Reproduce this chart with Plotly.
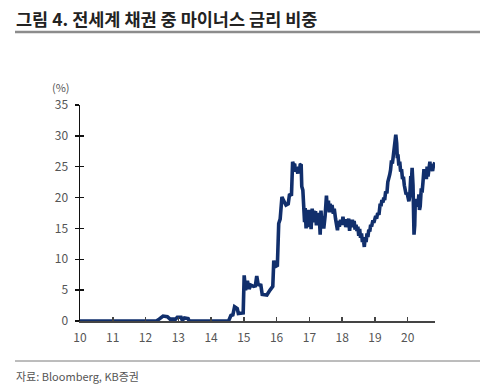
import plotly.graph_objects as go

dates = [
    "2010-01-01", "2012-05-01", "2012-06-01", "2012-07-15", "2012-09-01", "2012-10-01",
    "2012-12-01", "2012-12-20", "2013-02-01", "2013-02-15", "2013-03-10", "2013-04-20",
    "2013-05-01", "2014-07-15", "2014-08-10", "2014-09-01", "2014-09-20", "2014-10-20",
    "2014-11-01", "2014-12-25", "2015-01-05", "2015-01-20", "2015-02-10", "2015-03-01",
    "2015-03-20", "2015-04-20", "2015-05-10", "2015-05-25", "2015-06-10", "2015-07-10",
    "2015-07-25", "2015-09-15", "2015-10-20", "2015-11-20", "2015-12-01", "2015-12-15",
    "2016-01-10", "2016-01-25", "2016-02-10", "2016-03-01", "2016-03-20", "2016-04-15",
    "2016-05-10", "2016-05-25", "2016-06-15", "2016-06-28", "2016-07-10", "2016-07-20",
    "2016-08-01", "2016-08-10", "2016-08-25", "2016-09-05", "2016-09-12", "2016-09-20",
    "2016-10-01", "2016-10-08", "2016-10-20", "2016-11-01", "2016-11-08", "2016-11-15",
    "2016-11-25", "2016-12-05", "2016-12-12", "2016-12-22", "2017-01-05", "2017-01-12",
    "2017-01-20", "2017-02-01", "2017-02-10", "2017-02-20", "2017-03-01", "2017-03-10",
    "2017-03-20", "2017-04-01", "2017-04-10", "2017-04-20", "2017-05-01", "2017-05-10",
    "2017-05-20", "2017-06-01", "2017-06-10", "2017-06-25", "2017-07-10", "2017-07-20",
    "2017-08-01", "2017-08-10", "2017-08-20", "2017-09-01", "2017-09-10", "2017-09-25",
    "2017-10-05", "2017-10-20", "2017-11-01", "2017-11-10", "2017-11-20", "2017-12-01",
    "2017-12-15", "2018-01-01", "2018-01-10", "2018-01-20", "2018-02-01", "2018-02-10",
    "2018-02-20", "2018-03-05", "2018-03-15", "2018-03-25", "2018-04-05", "2018-04-15",
    "2018-04-25", "2018-05-05", "2018-05-15", "2018-05-25", "2018-06-05", "2018-06-15",
    "2018-06-25", "2018-07-05", "2018-07-15", "2018-07-25", "2018-08-05", "2018-08-15",
    "2018-08-25", "2018-09-05", "2018-09-15", "2018-09-25", "2018-10-05", "2018-10-15",
    "2018-10-25", "2018-11-05", "2018-11-15", "2018-11-25", "2018-12-10", "2018-12-20",
    "2019-01-10", "2019-01-20", "2019-02-01", "2019-02-15", "2019-03-01", "2019-03-10",
    "2019-03-20", "2019-04-01", "2019-04-10", "2019-04-20", "2019-05-01", "2019-05-15",
    "2019-05-25", "2019-06-05", "2019-06-15", "2019-06-25", "2019-07-05", "2019-07-15",
    "2019-07-25", "2019-08-05", "2019-08-15", "2019-08-22", "2019-09-01", "2019-09-08",
    "2019-09-15", "2019-09-25", "2019-10-05", "2019-10-15", "2019-10-25", "2019-11-05",
    "2019-11-15", "2019-11-25", "2019-12-05", "2019-12-15", "2019-12-25", "2020-01-05",
    "2020-01-15", "2020-01-25", "2020-02-05", "2020-02-12", "2020-02-20", "2020-03-01",
    "2020-03-08", "2020-03-12", "2020-03-20", "2020-03-27", "2020-04-05", "2020-04-15",
    "2020-04-25", "2020-05-05", "2020-05-12", "2020-05-20", "2020-06-01", "2020-06-10",
    "2020-06-20", "2020-07-01", "2020-07-10", "2020-07-20", "2020-07-28", "2020-08-05",
    "2020-08-15", "2020-08-25", "2020-09-05", "2020-09-15", "2020-09-25", "2020-10-05",
    "2020-10-15", "2020-10-31",
]
values = [
    0.0, 0.0, 0.3, 0.8, 0.7, 0.3,
    0.3, 0.6, 0.6, 0.1, 0.5, 0.4,
    0.0, 0.0, 0.9, 1.0, 2.3, 2.0,
    1.2, 1.3, 7.4, 5.0, 6.5, 5.2,
    5.8, 5.6, 5.7, 7.3, 5.9, 5.8,
    4.3, 4.2, 5.0, 5.6, 9.8, 8.8,
    9.0, 15.8, 16.5, 20.1, 19.5, 18.8,
    19.0, 20.6, 20.3, 25.8, 25.2, 25.5,
    24.2, 24.8, 23.9, 25.0, 24.1, 25.3,
    25.4, 21.8, 21.2, 18.5, 16.0, 18.3,
    15.0, 17.8, 15.2, 18.0, 15.5, 17.6,
    14.9, 18.2, 16.5, 17.9, 16.0, 17.8,
    15.5, 17.5, 16.0, 17.2, 14.0, 17.9,
    15.8, 17.0, 15.0, 17.0, 20.3, 18.0,
    19.5, 17.6, 19.0, 17.6, 18.8, 17.4,
    18.2, 16.5, 15.0, 14.7, 16.2, 15.3,
    16.4, 15.6, 16.9, 15.8, 16.5, 15.2,
    16.0, 15.3, 16.6, 14.6, 16.0, 15.2,
    16.4, 15.5, 16.2, 14.8, 15.6, 14.6,
    15.3, 13.8, 14.9, 13.5, 14.2, 12.8,
    13.4, 12.0, 13.6, 12.8, 14.2, 13.6,
    14.8, 14.5, 15.6, 15.3, 16.3, 15.9,
    17.0, 16.6, 17.5, 17.2, 19.0, 18.6,
    19.6, 19.2, 20.0, 19.6, 21.0, 20.7,
    22.5, 23.0, 23.7, 24.5, 26.0, 25.5,
    26.8, 28.5, 29.5, 30.2, 28.8, 26.4,
    27.0, 25.2, 25.8, 24.2, 24.6, 23.0,
    23.4, 22.0, 21.5, 20.5, 20.8, 20.0,
    19.4, 20.3, 23.5, 22.6, 24.8, 22.0,
    17.5, 14.0, 15.5, 19.8, 18.6, 19.6,
    18.5, 20.5, 18.0, 18.6, 21.5, 20.8,
    22.5, 24.6, 23.2, 24.0, 23.0, 25.0,
    23.4, 24.2, 25.8, 24.5, 25.0, 24.3,
    25.2, 25.7,
]

x_tick_vals = ["%d-01-01" % y for y in range(2010, 2021)]
x_tick_text = ["10", "11", "12", "13", "14", "15", "16", "17", "18", "19", "20"]
y_tick_vals = [0, 5, 10, 15, 20, 25, 30, 35]

FONT = "Noto Sans CJK KR"
LINE_COLOR = "#112f6c"

W, H = 485, 387
ML, MR, MT, MB = 80, 50, 105, 66
pw = W - ML - MR
ph = H - MT - MB


def px(x):
    return (x - ML) / pw


def py(y):
    return (H - MB - y) / ph


fig = go.Figure()
fig.add_trace(go.Scatter(
    x=dates, y=values, mode="lines",
    line=dict(color=LINE_COLOR, width=3.6),
    hoverinfo="skip", showlegend=False,
))
# invisible trace on overlay axis for inward y ticks (cross ticks)
fig.add_trace(go.Scatter(x=[dates[0]], y=[0], yaxis="y2", mode="markers",
                         marker=dict(opacity=0), showlegend=False, hoverinfo="skip"))

fig.update_layout(
    width=W, height=H,
    margin=dict(l=ML, r=MR, t=MT, b=MB),
    paper_bgcolor="white", plot_bgcolor="white",
    font=dict(family=FONT, size=12, color="#555555"),
    xaxis=dict(
        type="date", range=["2010-01-01", "2020-11-01"],
        tickvals=x_tick_vals, ticktext=x_tick_text,
        ticks="inside", ticklen=4, tickcolor="#444444", tickwidth=1.5,
        showline=True, linecolor="#444444", linewidth=1.5,
        showgrid=False, zeroline=False, ticklabelstandoff=5,
        tickfont=dict(family=FONT, size=12, color="#555555"),
    ),
    yaxis=dict(
        range=[0, 35], tickvals=y_tick_vals,
        ticks="outside", ticklen=4, tickcolor="#111111", tickwidth=1.5,
        showline=True, linecolor="#111111", linewidth=1.5,
        showgrid=False, zeroline=False, ticklabelstandoff=4,
        tickfont=dict(family=FONT, size=12, color="#555555"),
    ),
    yaxis2=dict(
        range=[0, 35], tickvals=y_tick_vals, overlaying="y", side="left",
        ticks="inside", ticklen=4, tickcolor="#111111", tickwidth=1.5,
        showticklabels=False, showline=False, showgrid=False, zeroline=False,
    ),
    annotations=[
        dict(text="<b>그림 4. 전세계 채권 중 마이너스 금리 비중</b>", xref="paper", yref="paper",
             x=px(14), y=py(18), xanchor="left", yanchor="middle", showarrow=False,
             font=dict(family=FONT, size=17.5, color="#222222")),
        dict(text="(%)", xref="paper", yref="paper", showarrow=False,
             x=px(50), y=py(87), xanchor="left", yanchor="middle",
             font=dict(family=FONT, size=11, color="#555555")),
        dict(text="자료: Bloomberg, KB증권", xref="paper", yref="paper", showarrow=False,
             x=px(14), y=py(376), xanchor="left", yanchor="middle",
             font=dict(family=FONT, size=11, color="#555555")),
    ],
    shapes=[
        dict(type="line", xref="paper", yref="paper",
             x0=px(15), x1=px(480), y0=py(32), y1=py(32),
             line=dict(color="#8c8c8c", width=2.5)),
        dict(type="line", xref="paper", yref="paper",
             x0=px(15), x1=px(480), y0=py(361), y1=py(361),
             line=dict(color="#7a7a7a", width=1)),
    ],
)

fig.write_html(
    "out.html",
    config={"displayModeBar": False, "staticPlot": True},
    post_script="document.body.style.margin='0';document.body.style.overflow='hidden';",
)
